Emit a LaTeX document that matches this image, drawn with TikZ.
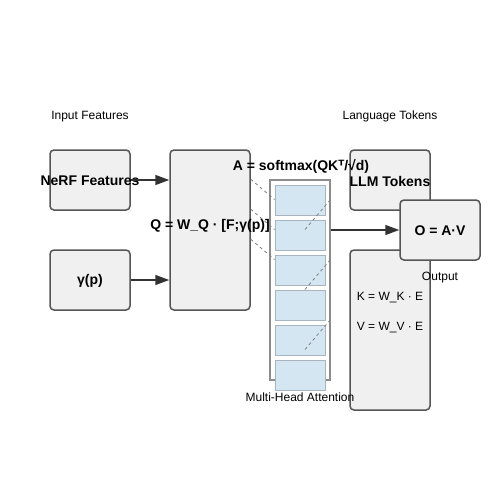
\documentclass[tikz,border=0pt]{standalone}
\usepackage{fontspec}
\setmainfont{Liberation Sans}
\newfontfamily\symfont{DejaVu Sans}
\usetikzlibrary{arrows.meta,calc}

\definecolor{boxfill}{HTML}{F0F0F0}
\definecolor{boxline}{HTML}{555555}
\definecolor{headfill}{HTML}{D4E6F1}
\definecolor{headline}{HTML}{A8B4BE}
\definecolor{arrowgray}{HTML}{333333}

\begin{document}
\begin{tikzpicture}[x=1pt, y=-1pt,
  block/.style={draw=boxline, fill=boxfill, line width=1.5pt, rounded corners=4pt, inner sep=0pt},
  head box/.style={draw=headline, fill=headfill, line width=1pt, minimum width=50pt, minimum height=30pt, inner sep=0pt},
  title/.style={font=\fontsize{14}{16}\selectfont\bfseries, inner sep=0pt, yshift=-1pt},
  plain text/.style={font=\fontsize{12}{14}\selectfont, inner sep=0pt, yshift=-1.5pt},
  flow/.style={draw=arrowgray, line width=1.5pt, -{Triangle[length=14pt,width=10pt]}},
  attn link/.style={draw=gray, line width=0.8pt, dash pattern=on 3pt off 3pt}]
  \useasboundingbox[fill=white] (0,0) rectangle (500,500);

  \node[plain text] (inlabel) at (90,115) {Input Features};
  \node[plain text] (toklabel) at (390,115) {Language Tokens};

  % input side
  \node[block, minimum width=80pt, minimum height=60pt] (nerf) at (90,180) {};
  \node[block, minimum width=80pt, minimum height=60pt] (pos) at (90,280) {};
  \node[block, minimum width=80pt, minimum height=160pt] (qbox) at (210,230) {};
  \node[title] (nerftext) at (nerf) {NeRF Features};
  \node[title] (postext) at (pos) {γ(p)};
  \draw[flow] (nerf.east) -- (nerf -| qbox.west);
  \draw[flow] (pos.east) -- (pos -| qbox.west);

  % attention heads
  \node[draw=gray!90, fill=white, line width=1.5pt, minimum width=60pt, minimum height=200pt, inner sep=0pt] (attn) at (300,280) {};
  \foreach \i in {1,...,6}
    \node[head box] (h\i) at (300,165+35*\i) {};
  \foreach \d in {0,30,60}
    \draw[attn link] ($(qbox.north east)+(0,30+\d)$) -- ($(h1.north west)+(0,15+\d)$);
  \foreach \d in {0,60,120}
    \draw[attn link] ($(h1.north)+(5,45+\d)$) -- ($(attn.north east)+(0,20+\d)$);

  \node[title] (qtext) at (210,225) {Q = W\_Q · [F;γ(p)]};

  % language side
  \node[block, minimum width=80pt, minimum height=60pt] (llm) at (390,180) {};
  \node[block, minimum width=80pt, minimum height=160pt] (kv) at (390,330) {};
  \node[block, minimum width=80pt, minimum height=60pt] (outbox) at (440,230) {};
  \node[title] (llmtext) at (390,180) {LLM Tokens};
  \node[title] (atext) at (301,165) {A = softmax(QK{\symfont\bfseries ᵀ}/√d)};
  \node[title] (outtext) at (outbox) {O = A·V};
  \draw[flow] (attn.east |- outbox) -- (outbox.west);

  \node[plain text] (outlabel) at (440,276) {Output};
  \node[plain text] (ktext) at (390,296) {K = W\_K · E};
  \node[plain text] (vtext) at (390,326) {V = W\_V · E};
  \node[plain text] (attnlabel) at (300,396) {Multi-Head Attention};
\end{tikzpicture}
\end{document}
